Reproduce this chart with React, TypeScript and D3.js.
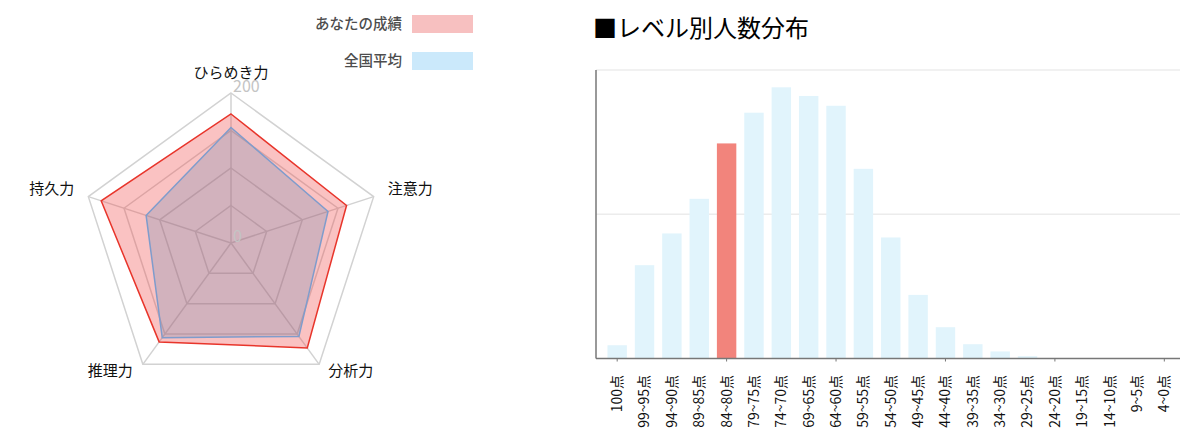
import { useEffect, useRef } from 'react';
import * as d3 from 'd3';

const axesLabels = ["ひらめき力", "注意力", "分析力", "推理力", "持久力"];
const myScores = [172, 162, 173, 163, 182];
const avgScores = [154, 136, 154, 156, 119];
const ringValues = [50, 100, 150, 200];
const radarTickLabels = [0, 200];

const legendNames = ["あなたの成績", "全国平均"];

const levelLabels = [
    "100点", "99~95点", "94~90点", "89~85点", "84~80点", "79~75点", "74~70点",
    "69~65点", "64~60点", "59~55点", "54~50点", "49~45点", "44~40点", "39~35点",
    "34~30点", "29~25点", "24~20点", "19~15点", "14~10点", "9~5点", "4~0点"
];
const levelCounts = [
    92, 647, 867, 1107, 1491, 1704, 1880, 1820, 1752, 1315, 839,
    441, 217, 99, 49, 16, 3, 1, 0, 0, 0
];
const myLevel = "84~80点";
const yTicks = [0, 1000, 2000];

const FONT = "'Noto Sans CJK JP', 'Noto Sans', sans-serif";

export default function App() {
    const svgRef = useRef<SVGSVGElement>(null);

    useEffect(() => {
        document.body.style.margin = "0";
        const svg = d3.select(svgRef.current);
        svg.selectAll("*").remove();
        svg.attr("width", 1200).attr("height", 447);

        // ---- Radar ----
        const cx = 231, cy = 243;
        const r = d3.scaleLinear().domain([0, 200]).range([0, 150]);
        const angle = (i: number) => (i * 2 * Math.PI) / axesLabels.length;
        const pt = (i: number, v: number): [number, number] => [
            cx + r(v) * Math.sin(angle(i)),
            cy - r(v) * Math.cos(angle(i))
        ];
        const radar = svg.append("g");

        ringValues.forEach(v => {
            radar.append("polygon")
                .attr("points", axesLabels.map((_, i) => pt(i, v).join(",")).join(" "))
                .attr("fill", "none")
                .attr("stroke", "#d2d2d2")
                .attr("stroke-width", 1.5);
        });
        axesLabels.forEach((_, i) => {
            const [x, y] = pt(i, 200);
            radar.append("line")
                .attr("x1", cx).attr("y1", cy)
                .attr("x2", x).attr("y2", y)
                .attr("stroke", "#d2d2d2")
                .attr("stroke-width", 1.5);
        });

        const series = [
            { values: myScores, fill: "rgba(240,80,80,0.35)", stroke: "#e8352b" },
            { values: avgScores, fill: "rgba(70,125,175,0.22)", stroke: "#7f9ccc" }
        ];
        series.forEach(s => {
            radar.append("polygon")
                .attr("points", s.values.map((v, i) => pt(i, v).join(",")).join(" "))
                .attr("fill", s.fill)
                .attr("stroke", s.stroke)
                .attr("stroke-width", 1.5);
        });

        radarTickLabels.forEach(v => {
            radar.append("text")
                .attr("x", cx + 2)
                .attr("y", cy - r(v) - 1)
                .style("font-family", FONT)
                .style("font-size", "16px")
                .style("fill", "#c4c4c4")
                .text(v);
        });

        axesLabels.forEach((lab, i) => {
            const [x, y] = pt(i, 200);
            const s = Math.sin(angle(i));
            const c = Math.cos(angle(i));
            let anchor = "middle", dx = 0, dy = 0;
            if (Math.abs(s) < 0.1) { dy = -15; }
            else if (s > 0) { anchor = "start"; dx = c > 0 ? 14 : 9; dy = c > 0 ? -3 : 12; }
            else { anchor = "end"; dx = c > 0 ? -14 : -10; dy = c > 0 ? -3 : 12; }
            radar.append("text")
                .attr("x", x + dx)
                .attr("y", y + dy)
                .attr("text-anchor", anchor)
                .style("font-family", FONT)
                .style("font-size", "15px")
                .style("fill", "#111")
                .text(lab);
        });

        // legend
        const legendColors = ["#f7c0c0", "#cbe9fb"];
        legendNames.forEach((name, i) => {
            const y = 15 + i * 37;
            svg.append("rect")
                .attr("x", 412).attr("y", y)
                .attr("width", 61).attr("height", 18)
                .attr("fill", legendColors[i]);
            svg.append("text")
                .attr("x", 402).attr("y", y + 14)
                .attr("text-anchor", "end")
                .style("font-family", FONT)
                .style("font-size", "14.5px")
                .style("font-weight", "500")
                .style("fill", "#4d4d4d")
                .text(name);
        });

        // ---- Bar chart ----
        svg.append("text")
            .attr("x", 593).attr("y", 37)
            .style("font-family", FONT)
            .style("font-size", "24px")
            .style("fill", "#000")
            .text("■レベル別人数分布");

        const left = 596, right = 1180, top = 70, bottom = 358.5;
        const x = d3.scaleBand<string>()
            .domain(levelLabels)
            .range([603.5, 1178])
            .paddingInner(0.29)
            .paddingOuter(0.145);
        const y = d3.scaleLinear().domain([0, 2000]).range([bottom, top]);

        const g = svg.append("g");
        yTicks.slice(1).forEach(t => {
            g.append("line")
                .attr("x1", left).attr("x2", right)
                .attr("y1", y(t)).attr("y2", y(t))
                .attr("stroke", "#ececec")
                .attr("stroke-width", 1.5);
        });

        g.selectAll(".bar")
            .data(levelLabels)
            .enter().append("rect")
            .attr("class", "bar")
            .attr("x", d => x(d) || 0)
            .attr("width", x.bandwidth())
            .attr("y", (_, i) => y(levelCounts[i]))
            .attr("height", (_, i) => bottom - y(levelCounts[i]))
            .attr("fill", d => d === myLevel ? "#f2847c" : "#e1f4fc");

        g.append("line")
            .attr("x1", left).attr("x2", left)
            .attr("y1", top).attr("y2", bottom)
            .attr("stroke", "#777").attr("stroke-width", 1.5);
        g.append("line")
            .attr("x1", left).attr("x2", right)
            .attr("y1", bottom).attr("y2", bottom)
            .attr("stroke", "#777").attr("stroke-width", 1.5);

        levelLabels.forEach((d, i) => {
            const c = (x(d) || 0) + x.bandwidth() / 2;
            if (i % 4 === 0) {
                g.append("line")
                    .attr("x1", c).attr("x2", c)
                    .attr("y1", bottom).attr("y2", bottom + 3)
                    .attr("stroke", "#777");
            }
            g.append("text")
                .attr("transform", `translate(${c},375) rotate(-90)`)
                .attr("text-anchor", "end")
                .attr("dy", "0.35em")
                .style("font-family", FONT)
                .style("font-size", "14px")
                .style("fill", "#111")
                .text(d);
        });
    }, []);

    return <svg ref={svgRef} style={{ display: "block" }}></svg>;
}
